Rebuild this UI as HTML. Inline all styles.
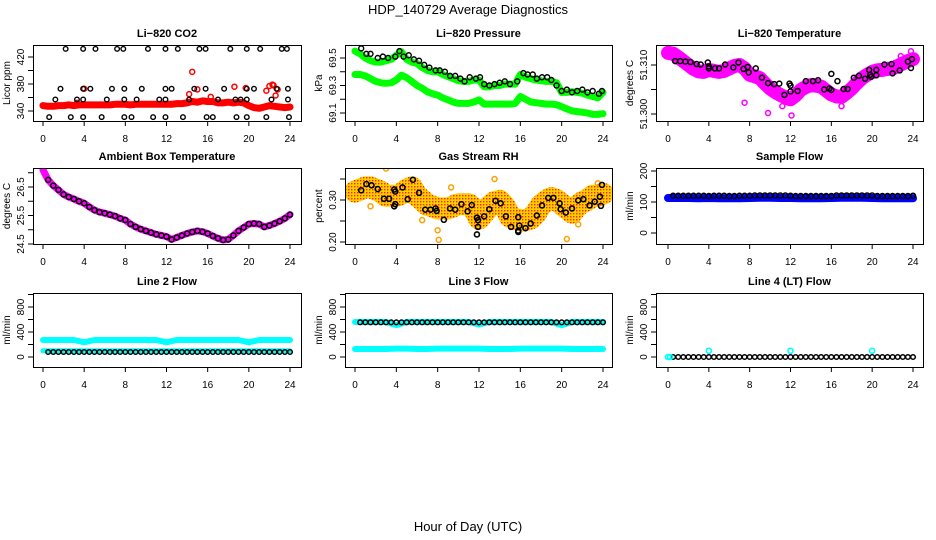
<!DOCTYPE html>
<html><head><meta charset="utf-8">
<style>
html,body{margin:0;padding:0;background:#fff;}
svg{display:block;font-family:"Liberation Sans",Arial,sans-serif;}
</style></head>
<body>
<svg id="chart" width="936" height="540" viewBox="0 0 936 540" xmlns="http://www.w3.org/2000/svg">
<defs>
<pattern id="rhdots" width="3" height="3" patternUnits="userSpaceOnUse">
<rect width="3" height="3" fill="#FFD000"/>
<rect x="0" y="0" width="1.4" height="1.4" fill="#FF2000"/>
</pattern>
</defs>
<text x="468" y="14" text-anchor="middle" font-size="13">HDP_140729  Average Diagnostics</text>
<text x="468" y="531" text-anchor="middle" font-size="13">Hour of Day (UTC)</text>
</svg>
<script>
// ---- time categories ----
const halfHours = Array.from({length:49},(_,i)=>i*0.5);
const hours = Array.from({length:25},(_,i)=>i);
const blackHalf = Array.from({length:48},(_,i)=>0.5+i*0.5);
const xTickLabels = [0,4,8,12,16,20,24];

// ---- CO2 ----
const co2Red = [348,347,347,348,348,349,348,349,349,349,349,349,349,349,350,350,350,349,350,350,350,350,350,350,350,350,351,351,352,354,353,355,354,354,352,352,353,352,353,352,348,345,344,346,348,347,346,345,346];
const co2OutT = [4.0,3.3,14.5,14.2,15.0,16.3,18.6,19.7,21.7,22.0,22.4,22.3,22.6,22.8];
const co2OutV = [373,352,398,365,372,361,376,374,370,377,378,379,363,372];
const co2BlkT = [2.2,3.9,5.1,7.2,7.8,10.2,11.9,13.1,15.2,15.8,18.2,19.8,21.1,23.2,23.7,
 1.7,3.9,4.6,6.7,7.9,9.6,11.9,12.5,14.7,15.8,17.6,19.8,20.5,22.7,23.8,
 1.2,3.3,3.9,6.2,7.9,9.1,11.3,11.9,14.2,17.0,18.7,19.2,19.8,22.2,23.8,
 0.6,2.7,3.9,5.7,7.9,8.6,10.7,11.9,13.6,15.9,16.5,18.8,19.8,21.7,23.9];
const co2BlkV = [432,432,432,432,432,432,432,432,432,432,432,432,432,432,432,
 373,373,373,373,373,373,373,373,373,373,373,373,373,373,373,
 357,357,357,357,357,357,357,357,357,357,357,357,357,357,357,
 331,331,331,331,331,331,331,331,331,331,331,331,331,331,331];

// ---- Pressure ----
const presUpper = [69.55,69.53,69.50,69.48,69.47,69.47,69.48,69.49,69.52,69.545,69.49,69.47,69.46,69.43,69.41,69.40,69.40,69.38,69.365,69.35,69.335,69.33,69.33,69.34,69.34,69.29,69.29,69.30,69.30,69.31,69.31,69.31,69.38,69.36,69.35,69.34,69.335,69.33,69.33,69.32,69.25,69.25,69.255,69.25,69.245,69.23,69.22,69.21,69.25];
const presLower = [69.38,69.38,69.37,69.35,69.33,69.32,69.316,69.32,69.34,69.375,69.357,69.33,69.30,69.28,69.255,69.24,69.23,69.21,69.195,69.18,69.17,69.17,69.17,69.18,69.195,69.165,69.165,69.165,69.165,69.165,69.165,69.17,69.22,69.20,69.18,69.175,69.17,69.165,69.165,69.16,69.146,69.13,69.115,69.11,69.105,69.10,69.09,69.09,69.095];
const presBlkT = [0.6,1.1,1.5,2.2,2.7,3.2,3.9,4.3,4.7,5.2,5.7,6.2,6.7,7.2,7.8,8.2,8.7,9.2,9.7,10.2,10.6,11.1,11.7,12.1,12.5,13.0,13.5,14.0,14.5,15.0,15.7,16.3,16.7,17.2,17.6,18.1,18.6,19.0,19.5,20.0,20.5,21.0,21.5,22.0,22.5,23.0,23.6,23.9];
const presBlkV = [69.57,69.53,69.53,69.50,69.51,69.50,69.51,69.55,69.51,69.52,69.49,69.48,69.45,69.43,69.41,69.41,69.40,69.37,69.37,69.35,69.33,69.36,69.35,69.36,69.31,69.30,69.31,69.32,69.33,69.31,69.33,69.39,69.38,69.38,69.35,69.36,69.36,69.34,69.30,69.26,69.27,69.25,69.26,69.27,69.25,69.26,69.24,69.26];

// ---- Li-820 Temperature ----
const tempMag = [51.3125,51.3123,51.3116,51.3108,51.3100,51.3092,51.3087,51.3086,51.3090,51.3088,51.3086,51.3088,51.3093,51.3098,51.3100,51.3093,51.3080,51.3077,51.3073,51.3062,51.3052,51.3045,51.3039,51.3034,51.3030,51.3038,51.3049,51.3055,51.3059,51.3058,51.3056,51.3048,51.3040,51.3036,51.3035,51.3043,51.3052,51.3063,51.3073,51.3080,51.3086,51.3089,51.3090,51.3092,51.3093,51.3098,51.3103,51.3108,51.3112];
const tempOutT = [7.5,9.8,11.2,12.1,17.0,23.8,16.5,22.8];
const tempOutV = [51.3023,51.3002,51.3016,51.2997,51.3016,51.3128,51.3028,51.3118];
const tempBlkT = [0.7,1.2,1.7,2.2,2.8,3.2,3.9,4.0,4.0,4.6,5.0,5.6,6.4,6.9,7.4,7.8,7.9,8.6,9.2,9.8,10.4,10.9,11.4,11.9,12.0,12.0,12.7,13.5,14.2,14.7,15.3,15.8,16.0,16.0,16.6,17.2,17.6,18.2,18.7,19.3,19.7,19.8,19.9,20.4,20.4,21.2,21.9,22.0,22.7,23.5,23.9,23.8];
const tempBlkV = [51.3108,51.3108,51.3107,51.3106,51.3102,51.3101,51.3105,51.3097,51.3093,51.3093,51.3093,51.3101,51.3095,51.3105,51.3092,51.3096,51.3085,51.3093,51.3074,51.3063,51.3061,51.3062,51.3039,51.3062,51.3058,51.3046,51.3047,51.3067,51.3067,51.3069,51.3050,51.3052,51.3049,51.3082,51.3067,51.3051,51.3051,51.3074,51.3078,51.3072,51.3090,51.3080,51.3076,51.3079,51.3090,51.3101,51.3102,51.3083,51.3089,51.3107,51.3112,51.3094];

// ---- Ambient Box Temperature ----
const ambMag = [27.1,26.75,26.55,26.4,26.24,26.15,26.08,26.0,25.93,25.8,25.69,25.62,25.58,25.53,25.48,25.4,25.34,25.2,25.1,25.02,24.96,24.9,24.84,24.8,24.76,24.66,24.73,24.8,24.87,24.92,24.96,24.93,24.87,24.78,24.7,24.64,24.66,24.8,24.96,25.08,25.2,25.22,25.2,25.1,25.15,25.22,25.3,25.4,25.53];
const ambBlk = [26.75,26.55,26.4,26.24,26.15,26.08,26.0,25.93,25.8,25.69,25.62,25.58,25.53,25.48,25.4,25.34,25.2,25.1,25.02,24.96,24.9,24.84,24.8,24.76,24.66,24.73,24.8,24.87,24.92,24.96,24.93,24.87,24.78,24.7,24.64,24.66,24.8,24.96,25.08,25.2,25.22,25.2,25.1,25.15,25.22,25.3,25.4,25.53];

// ---- Gas Stream RH ----
const rhCloud = [0.32,0.325,0.33,0.33,0.325,0.32,0.31,0.31,0.31,0.315,0.325,0.33,0.31,0.30,0.288,0.285,0.28,0.28,0.28,0.285,0.29,0.29,0.29,0.28,0.256,0.27,0.285,0.295,0.298,0.285,0.26,0.255,0.252,0.252,0.256,0.268,0.288,0.298,0.305,0.30,0.29,0.28,0.27,0.285,0.295,0.30,0.31,0.31,0.315];
const rhOutT = [3.0,8.0,8.1,20.5,13.5,6.5,1.5,9.3,21.6,23.5];
const rhOutV = [0.375,0.228,0.205,0.207,0.35,0.252,0.285,0.33,0.242,0.34];
const rhBlkT = [0.6,1.1,1.6,2.2,2.8,3.3,3.8,3.9,3.9,3.8,4.6,5.1,5.6,6.2,6.8,7.3,7.8,7.9,8.6,9.2,9.7,10.3,10.9,11.3,11.8,11.9,11.9,11.8,12.5,13.0,13.6,14.1,14.6,15.1,15.8,15.9,15.8,15.8,16.5,17.0,17.6,18.1,18.7,19.2,19.8,19.9,20.4,21.0,21.6,22.1,22.7,23.2,23.7,23.8,23.9];
const rhBlkV = [0.323,0.338,0.335,0.326,0.303,0.303,0.325,0.32,0.29,0.285,0.33,0.302,0.348,0.317,0.277,0.277,0.28,0.274,0.253,0.28,0.277,0.29,0.273,0.288,0.258,0.252,0.236,0.218,0.261,0.278,0.298,0.292,0.261,0.236,0.259,0.239,0.227,0.224,0.233,0.244,0.263,0.287,0.305,0.305,0.292,0.278,0.27,0.28,0.299,0.302,0.287,0.296,0.308,0.286,0.336];

// ---- Flows ----
const sampleBlue = [113,113,113,112,113,112,112,112,113,114,114,113,113,112,112,112,113,114,114,114,113,112,112,112,112];
const sampleBlk = [120,120,120,120,120,120,120,119,120,120,120,119,119,120,120,120,121,121,121,121,121,121,121,120,119,119,119,119,119,119,119,119,121,121,121,121,121,121,121,121,119,119,119,119,119,119,119,120];
const l2CyanHi = [272,272,272,272,235,272,272,272,272,272,272,272,235,272,272,272,272,272,272,272,235,272,272,272,272];
const l2CyanLo = [100,100,100,100,100,100,100,100,100,100,100,100,100,100,100,100,100,100,100,100,100,100,100,100,100];
const l2Blk = [80,80,80,80,80,80,80,80,80,80,80,80,80,80,80,80,80,80,80,80,80,80,80,80,80,80,80,80,80,80,80,80,80,80,80,80,80,80,80,80,80,80,80,80,80,80,80,80];
const l3CyanHi = [560,560,560,560,510,560,560,560,560,560,560,560,520,560,560,560,560,560,560,560,510,560,560,560,560];
const l3CyanLo = [128,128,128,128,135,135,128,128,135,135,135,135,135,128,128,128,135,135,135,135,135,128,128,128,128];
const l3Blk = [555,555,555,555,555,555,555,555,555,555,555,555,555,555,555,555,555,555,555,555,555,555,555,555,555,555,555,555,555,555,555,555,555,555,555,555,555,555,555,555,555,555,555,555,555,555,555,555];
const l4CyanT = [0,0.2,4,12,20];
const l4CyanV = [0,0,100,100,100];
const l4Blk = [0,0,0,0,0,0,0,0,0,0,0,0,0,0,0,0,0,0,0,0,0,0,0,0,0,0,0,0,0,0,0,0,0,0,0,0,0,0,0,0,0,0,0,0,0,0,0,0];

const NS = "http://www.w3.org/2000/svg";
const svg = document.getElementById("chart");
function el(tag, attrs, parent){
  const e = document.createElementNS(NS, tag);
  for (const k in attrs) e.setAttribute(k, attrs[k]);
  parent.appendChild(e);
  return e;
}
const cols = [{l:33,r:301,x0:43,x24:290},{l:345,r:612,x0:355,x24:603},{l:656,r:923,x0:668,x24:913}];
const rows = [{t:45,b:121},{t:168,b:244},{t:293,b:367}];

function makePanel(ci, ri, name, title, ylab, v1, p1, v2, p2, ticks, labels){
  const c = cols[ci], r = rows[ri];
  const g = el("g", {}, svg);
  
  
  const xs = h => c.x0 + h*(c.x24-c.x0)/24;
  const ys = v => p1 + (v - v1)*(p2-p1)/(v2-v1);
  const clipId = "clip-" + name;
  const cp = el("clipPath", {id: clipId}, g);
  el("rect", {x:c.l, y:r.t, width:c.r-c.l, height:r.b-r.t}, cp);
  const plot = el("g", {"clip-path":"url(#"+clipId+")"}, g);
  
  
  const box = el("rect", {x:c.l+0.5, y:r.t+0.5, width:c.r-c.l, height:r.b-r.t, fill:"none", stroke:"#000", "stroke-width":1}, g);
  
  
  const t = el("text", {x:(c.l+c.r)/2, y:r.t-8, "text-anchor":"middle", "font-size":"11", "font-weight":"bold"}, g);
  
  
  t.textContent = title;
  // x axis
  const xa = el("g", {}, g);
  
  
  el("line", {x1:xs(0), x2:xs(24), y1:r.b+0.5, y2:r.b+0.5, stroke:"#000"}, xa);
  xTickLabels.forEach(h => {
    const tk = el("line", {x1:xs(h), x2:xs(h), y1:r.b, y2:r.b+5, stroke:"#000"}, xa);
    
    
    const tl = el("text", {x:xs(h), y:r.b+21, "text-anchor":"middle", "font-size":"10"}, xa);
    
    
    tl.textContent = h;
  });
  // y axis
  const ya = el("g", {}, g);
  
  
  ticks.forEach(v => {
    const y = ys(v);
    const tk = el("line", {x1:c.l-5, x2:c.l, y1:y, y2:y, stroke:"#000"}, ya);
    
    
  });
  el("line", {x1:c.l+0.5, x2:c.l+0.5, y1:ys(ticks[0]), y2:ys(ticks[ticks.length-1]), stroke:"#000"}, ya);
  labels.forEach(s => {
    const y = ys(parseFloat(s));
    const tl = el("text", {x:c.l-9, y:y, "text-anchor":"middle", "font-size":"10", transform:"rotate(-90 "+(c.l-9)+" "+y+")"}, ya);
    
    
    tl.textContent = s;
  });
  const yt = el("text", {x:c.l-23, y:(r.t+r.b)/2, "text-anchor":"middle", "font-size":"10", transform:"rotate(-90 "+(c.l-23)+" "+((r.t+r.b)/2)+")"}, g);
  
  
  yt.textContent = ylab;
  return {plot, xs, ys};
}
function band(P, T, V, color, w, nm){
  const pts = V.map((v,i)=> P.xs(T[i]).toFixed(1)+","+P.ys(v).toFixed(1)).join(" ");
  const pl = el("polyline", {points:pts, fill:"none", stroke:color, "stroke-width":w, "stroke-linejoin":"round", "stroke-linecap":"round"}, P.plot);
  
  
}
function pts(P, T, V, color, rad, sw, nm){
  const n = Math.min(T.length, V.length);
  for (let i=0;i<n;i++){
    const ci = el("circle", {cx:P.xs(T[i]), cy:P.ys(V[i]), r:rad, fill:"none", stroke:color, "stroke-width":sw}, P.plot);
    
    
  }
}

// Panel 1: CO2
let P = makePanel(0,0,"co2","Li\u2212820 CO2","Licor ppm",340,111,420,57,[340,360,380,400,420],["340","380","420"]);
band(P, halfHours, co2Red, "#FF0000", 7, "co2-series-band");
pts(P, halfHours, co2Red, "#FF0000", 2.5, 1.5, "co2-point");
pts(P, co2OutT, co2OutV, "#FF0000", 2.5, 1.5, "co2-outlier-point");
pts(P, co2BlkT, co2BlkV, "#000", 2.3, 1.4, "co2-average-point");

// Panel 2: Pressure
P = makePanel(1,0,"pressure","Li\u2212820 Pressure","kPa",69.1,113,69.5,58,[69.1,69.2,69.3,69.4,69.5],["69.1","69.3","69.5"]);
band(P, halfHours, presUpper, "#00FF00", 7, "pressure-upper-band");
band(P, halfHours, presLower, "#00FF00", 7, "pressure-lower-band");
pts(P, halfHours, presUpper, "#00FF00", 2.5, 1.5, "pressure-upper-point");
pts(P, halfHours, presLower, "#00FF00", 2.5, 1.5, "pressure-lower-point");
pts(P, presBlkT, presBlkV, "#000", 2.5, 1.4, "pressure-average-point");

// Panel 3: Temperature
P = makePanel(2,0,"li820-temp","Li\u2212820 Temperature","degrees C",51.300,114,51.310,65,[51.300,51.305,51.310],["51.300","51.310"]);
band(P, halfHours, tempMag, "#FF00FF", 14, "temperature-band");
pts(P, halfHours, tempMag, "#FF00FF", 2.5, 1.5, "temperature-point");
pts(P, tempOutT, tempOutV, "#FF00FF", 2.5, 1.5, "temperature-outlier-point");
pts(P, tempBlkT, tempBlkV, "#000", 2.5, 1.5, "temperature-average-point");

// Panel 4: Ambient
P = makePanel(0,1,"ambient","Ambient Box Temperature","degrees C",24.5,244,26.5,187,[24.5,25.0,25.5,26.0,26.5,27.0],["24.5","25.5","26.5"]);
band(P, halfHours, ambMag, "#FF00FF", 7, "ambient-band");
pts(P, blackHalf, ambBlk, "#000", 2.5, 1.5, "ambient-average-point");

// Panel 5: RH
P = makePanel(1,1,"rh","Gas Stream RH","percent",0.20,242,0.30,200,[0.20,0.25,0.30,0.35],["0.20","0.30"]);
band(P, halfHours, rhCloud, "url(#rhdots)", 22, "rh-cloud-band");
pts(P, rhOutT, rhOutV, "#FFA000", 2.5, 1.5, "rh-outlier-point");
pts(P, rhBlkT, rhBlkV, "#000", 2.5, 1.6, "rh-average-point");

// Panel 6: Sample Flow
P = makePanel(2,1,"sample-flow","Sample Flow","ml/min",0,233,100,202,[0,50,100,150,200],["0","100","200"]);
band(P, hours, sampleBlue, "#0000FF", 8, "sample-flow-band");
pts(P, blackHalf, sampleBlk, "#000", 2.5, 1.6, "sample-flow-average-point");

// Panel 7: Line 2
P = makePanel(0,2,"line2","Line 2 Flow","ml/min",0,357,400,332,[0,200,400,600,800,1000],["0","400","800"]);
band(P, hours, l2CyanHi, "#00FFFF", 6, "line2-high-band");
band(P, hours, l2CyanLo, "#00FFFF", 5, "line2-low-band");
pts(P, blackHalf, l2Blk, "#000", 2.3, 1.5, "line2-average-point");

// Panel 8: Line 3
P = makePanel(1,2,"line3","Line 3 Flow","ml/min",0,357,400,332,[0,200,400,600,800,1000],["0","400","800"]);
band(P, hours, l3CyanHi, "#00FFFF", 6, "line3-high-band");
band(P, hours, l3CyanLo, "#00FFFF", 6, "line3-low-band");
pts(P, blackHalf, l3Blk, "#000", 2.3, 1.5, "line3-average-point");

// Panel 9: Line 4
P = makePanel(2,2,"line4","Line 4 (LT) Flow","ml/min",0,357,400,332,[0,200,400,600,800,1000],["0","400","800"]);
pts(P, blackHalf, l4Blk, "#000", 2.3, 1.5, "line4-average-point");
pts(P, l4CyanT, l4CyanV, "#00FFFF", 2.5, 1.6, "line4-flow-point");
</script>
</body></html>
